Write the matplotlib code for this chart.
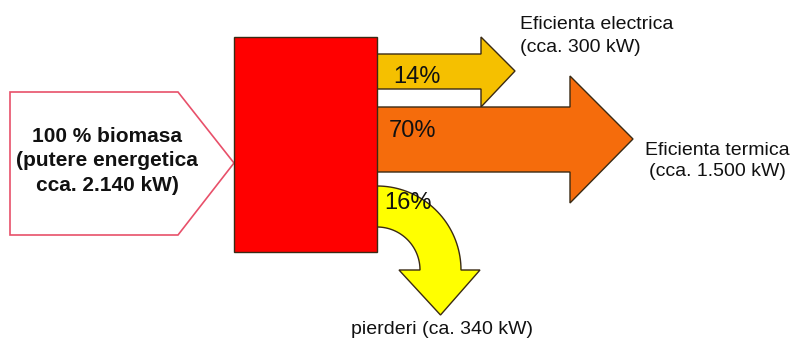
import numpy as np
import matplotlib.pyplot as plt
from matplotlib.patches import Polygon, Rectangle

plt.rcParams['font.family'] = ['Liberation Sans', 'DejaVu Sans']

# flows leaving the boiler
shares = ["14%", "70%", "16%"]
flow_names = ["Eficienta electrica\n(cca. 300 kW)",
              "Eficienta termica\n(cca. 1.500 kW)",
              "pierderi (ca. 340 kW)"]
input_label = "100 % biomasa\n(putere energetica\ncca. 2.140 kW)"

fig = plt.figure(figsize=(7.94, 3.39), dpi=100)
ax = fig.add_axes([0, 0, 1, 1])
ax.set_xlim(0, 794)
ax.set_ylim(339, 0)
ax.axis('off')

edge = '#3a2a14'

# input arrow (outlined pentagon)
ax.add_patch(Polygon([(10, 92), (178, 92), (234, 163), (178, 235), (10, 235)],
                     closed=True, facecolor='white', edgecolor='#e8506a', lw=1.2))
ax.text(107, 161, input_label, ha='center', va='center', fontsize=15,
        fontweight='bold', color='#111111', linespacing=1.38)

# electric arrow
ax.add_patch(Polygon([(377, 54), (481, 54), (481, 37), (515, 71), (481, 107),
                      (481, 89), (377, 89)],
                     closed=True, facecolor='#f5c000', edgecolor=edge, lw=1))

# thermal arrow
ax.add_patch(Polygon([(377, 107), (570, 107), (570, 76), (633, 139), (570, 203),
                      (570, 172), (377, 172)],
                     closed=True, facecolor='#f56c0c', edgecolor=edge, lw=1))

# losses: curved arrow
cx, cy = 377, 270
r_out, r_in = 84, 43
t = np.linspace(np.pi / 2, 0, 40)
outer = np.column_stack([cx + r_out * np.cos(t), cy - r_out * np.sin(t)])
inner = np.column_stack([cx + r_in * np.cos(t[::-1]), cy - r_in * np.sin(t[::-1])])
head = np.array([(cx + r_out + 19, cy), (cx + (r_out + r_in) / 2, 315), (cx + r_in - 21, cy)])
curve = np.vstack([outer, head, inner])
ax.add_patch(Polygon(curve, closed=True, facecolor='#ffff00', edgecolor=edge, lw=1))

# boiler block
ax.add_patch(Rectangle((234, 37), 143, 215, facecolor='#ff0000', edgecolor=edge, lw=1))

# percentages
ax.text(393, 77, shares[0], ha='left', va='center', fontsize=17, color='#111111')
ax.text(389, 131, shares[1], ha='left', va='center', fontsize=17, color='#111111')
ax.text(384, 203, shares[2], ha='left', va='center', fontsize=17, color='#111111')

# flow labels
ax.text(520, 36, flow_names[0], ha='left', va='center', fontsize=14,
        color='#111111', linespacing=1.45)
ax.text(717, 161, flow_names[1], ha='center', va='center', fontsize=14,
        color='#111111', linespacing=1.35)
ax.text(442, 329, flow_names[2], ha='center', va='center', fontsize=14,
        color='#111111')

fig.savefig('out.png', dpi=100, facecolor='white')
